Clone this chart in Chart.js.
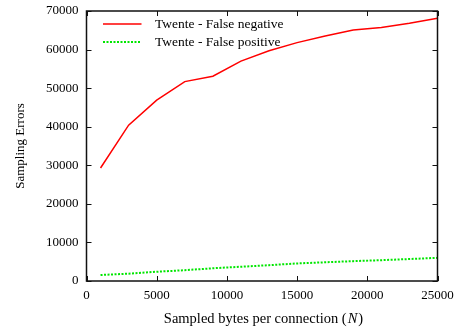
<!DOCTYPE html>
<html>
<head>
<meta charset="utf-8">
<script src="https://cdn.jsdelivr.net/npm/chart.js@4/dist/chart.umd.min.js"></script>
<style>
  html, body { margin: 0; padding: 0; background: #fff; }
  #wrap { width: 456px; height: 331px; position: relative; }
</style>
</head>
<body>
<div id="wrap"><canvas id="errChart" width="456" height="331"></canvas></div>
<script>
// sampled bytes per connection (N)
const sampleSizes = [1000, 3000, 5000, 7000, 9000, 11000, 13000, 15000, 17000, 19000, 21000, 23000, 25000];
const falseNegative = [29300, 40400, 46900, 51700, 53100, 57000, 59700, 61800, 63500, 65100, 65700, 66800, 68100];
const falsePositive = [1550, 1900, 2400, 2800, 3300, 3700, 4100, 4550, 4850, 5150, 5400, 5700, 6000];
const xTicks = [0, 5000, 10000, 15000, 20000, 25000];
const yTicks = [0, 10000, 20000, 30000, 40000, 50000, 60000, 70000];
const seriesNames = ['Twente - False negative', 'Twente - False positive'];

const FONT = '"Liberation Serif", "DejaVu Serif", serif';

// gnuplot style frame: box with inward ticks on all four sides, legend inside
const framePlugin = {
  id: 'frame',
  afterDatasetsDraw(chart) {
    const { ctx, chartArea: a, scales } = chart;
    ctx.save();
    ctx.strokeStyle = '#111';
    ctx.lineWidth = 1.5;
    ctx.strokeRect(a.left, a.top, a.right - a.left, a.bottom - a.top);
    ctx.beginPath();
    ctx.lineWidth = 1;
    const t = 5;
    xTicks.forEach(v => {
      const x = Math.round(scales.x.getPixelForValue(v)) + 0.5;
      ctx.moveTo(x, a.bottom); ctx.lineTo(x, a.bottom - t);
      ctx.moveTo(x, a.top); ctx.lineTo(x, a.top + t);
    });
    yTicks.forEach(v => {
      const y = Math.round(scales.y.getPixelForValue(v)) + 0.5;
      ctx.moveTo(a.left, y); ctx.lineTo(a.left + t, y);
      ctx.moveTo(a.right, y); ctx.lineTo(a.right - t, y);
    });
    ctx.stroke();

    // legend
    ctx.font = '13.5px ' + FONT;
    ctx.fillStyle = '#000';
    ctx.textBaseline = 'middle';
    chart.data.datasets.forEach((ds, i) => {
      const y = a.top + 13 + i * 18;
      ctx.beginPath();
      ctx.strokeStyle = ds.borderColor;
      ctx.lineWidth = ds.borderWidth;
      ctx.setLineDash(ds.borderDash || []);
      ctx.moveTo(a.left + 16.5, y);
      ctx.lineTo(a.left + 55, y);
      ctx.stroke();
      ctx.setLineDash([]);
      ctx.fillText(ds.label, a.left + 68.5, y);
    });

    // x axis title with italic N
    const cx = (a.left + a.right) / 2 + 2;
    const yT = 319;
    const parts = [['Sampled bytes per connection (', ''], ['N', 'italic '], [')', '']];
    const size = '14.5px ';
    let total = 0;
    parts.forEach(p => { ctx.font = p[1] + size + FONT; total += ctx.measureText(p[0]).width + 1; });
    let x = cx - total / 2;
    ctx.textAlign = 'left';
    parts.forEach(p => {
      ctx.font = p[1] + size + FONT;
      ctx.fillText(p[0], x, yT);
      x += ctx.measureText(p[0]).width + 1;
    });
    ctx.restore();
  }
};

new Chart(document.getElementById('errChart'), {
  type: 'line',
  data: {
    datasets: [
      {
        label: seriesNames[0],
        data: sampleSizes.map((n, i) => ({ x: n, y: falseNegative[i] })),
        borderColor: '#ff0000',
        borderWidth: 1.5,
        pointRadius: 0,
        tension: 0
      },
      {
        label: seriesNames[1],
        data: sampleSizes.map((n, i) => ({ x: n, y: falsePositive[i] })),
        borderColor: '#00e600',
        borderWidth: 2,
        borderDash: [2, 1.5],
        pointRadius: 0,
        tension: 0
      }
    ]
  },
  options: {
    responsive: false,
    animation: false,
    layout: { padding: { left: 12.5, right: 18.5, top: 11, bottom: 0 } },
    plugins: { legend: { display: false }, tooltip: { enabled: false } },
    scales: {
      x: {
        type: 'linear',
        min: 0,
        max: 25000,
        afterBuildTicks: s => { s.ticks = xTicks.map(v => ({ value: v })); },
        afterFit: s => { s.height = 50; s.paddingLeft = 0; s.paddingRight = 0; },
        grid: { display: false, drawTicks: false },
        border: { display: false },
        ticks: {
          color: '#000',
          font: { family: FONT, size: 13 },
          padding: 7,
          maxRotation: 0,
          callback: v => String(v)
        }
      },
      y: {
        min: 0,
        max: 70000,
        afterBuildTicks: s => { s.ticks = yTicks.map(v => ({ value: v })); },
        afterFit: s => { s.width = 74; s.paddingTop = 0; s.paddingBottom = 0; },
        grid: { display: false, drawTicks: false },
        border: { display: false },
        ticks: {
          color: '#000',
          font: { family: FONT, size: 13 },
          padding: 8,
          callback: v => String(v)
        },
        title: {
          display: true,
          text: 'Sampling Errors',
          color: '#000',
          font: { family: FONT, size: 13 },
          padding: { top: 0, bottom: 14 }
        }
      }
    }
  },
  plugins: [framePlugin]
});
</script>
</body>
</html>
